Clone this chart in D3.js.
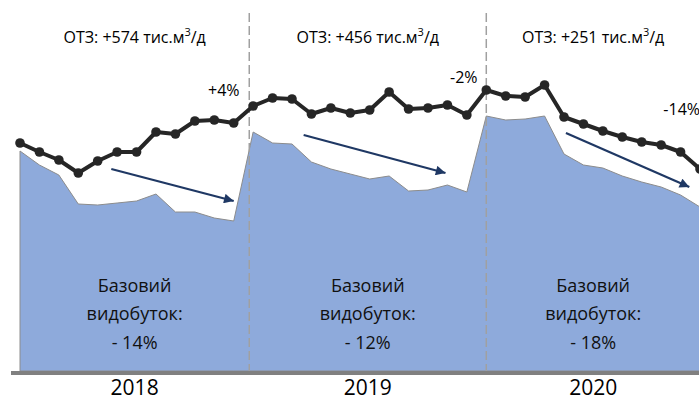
<!DOCTYPE html>
<html>
<head>
<meta charset="utf-8">
<script src="https://cdn.jsdelivr.net/npm/d3@7"></script>
<style>
  html, body { margin: 0; padding: 0; background: #fff; }
  svg { display: block; font-family: 'Open Sans', 'Noto Sans', sans-serif; }
</style>
</head>
<body>
<svg id="chart" width="699" height="400"></svg>
<script>
// monthly values, Jan 2018 .. Dec 2020 (index 0..35)
const YEARS = ['2018', '2019', '2020']
const TOTAL = [
  228, 219, 211, 198, 210, 219, 219, 239, 237, 250, 251, 248,
  265, 273, 272, 257, 263, 258, 261, 279, 262, 263, 266, 256,
  281, 275, 274, 286, 254, 247, 240, 234, 229, 226, 219, 202,
]
const BASE = [
  220, 206, 196, 167, 166, 168, 170, 177, 159, 159, 153, 150,
  239, 228, 227, 209, 202, 197, 192, 195, 180, 181, 186, 179,
  255, 251, 252, 255, 217, 206, 203, 195, 189, 184, 176, 164,
]
// section bounds in month units (dashed dividers in between)
const BOUNDS = [0, 11.8, 24, 35]
const OTZ_LABELS = ['+574', '+456', '+251']
const BASE_LABELS = ['- 14%', '- 12%', '- 18%']
const CHANGE_LABELS = [
  {text: '+4%', m: 11.3, v: 275},
  {text: '-2%', m: 23.55, v: 288},
  {text: '-14%', m: 35, v: 256},
]
// trend arrows: [month, value] -> [month, value]
const ARROWS = [
  [[4.7, 202], [11.0, 170]],
  [[14.6, 236], [21.9, 198]],
  [[28.1, 238], [34.45, 184]],
]

const svg = d3.select('#chart')
const x = d3.scaleLinear().domain([0, 35]).range([20, 700])
const y = d3.scaleLinear().domain([0, 300]).range([371, 71])

svg.append('defs')
  .append('marker')
  .attr('id', 'head')
  .attr('viewBox', '0 0 10 10')
  .attr('refX', 10)
  .attr('refY', 5)
  .attr('markerWidth', 5)
  .attr('markerHeight', 4.4)
  .attr('orient', 'auto')
  .attr('markerUnits', 'strokeWidth')
  .append('path')
  .attr('d', 'M0,0L10,5L0,10Z')
  .attr('fill', '#1f3864')

// base production area
const area = d3.area()
  .x((d, i) => x(i))
  .y0(y(0))
  .y1((d) => y(d))

svg.append('path')
  .datum(BASE)
  .attr('d', area)
  .attr('fill', '#8eaadb')
  .attr('stroke', '#8c8c8c')
  .attr('stroke-width', 1)

// year dividers
svg.selectAll('.divider')
  .data(BOUNDS.slice(1, -1))
  .enter()
  .append('line')
  .attr('class', 'divider')
  .attr('x1', (d) => x(d))
  .attr('x2', (d) => x(d))
  .attr('y1', 13)
  .attr('y2', y(0))
  .attr('stroke', '#a0a0a0')
  .attr('stroke-width', 1.5)
  .attr('stroke-dasharray', '9,4')

// bottom axis line
svg.append('line')
  .attr('x1', 11)
  .attr('x2', 699)
  .attr('y1', y(0) + 2)
  .attr('y2', y(0) + 2)
  .attr('stroke', '#808080')
  .attr('stroke-width', 4)

// total production line
const line = d3.line()
  .x((d, i) => x(i))
  .y((d) => y(d))

svg.append('path')
  .datum(TOTAL)
  .attr('d', line)
  .attr('fill', 'none')
  .attr('stroke', '#262626')
  .attr('stroke-width', 4)
  .attr('stroke-linejoin', 'round')

svg.selectAll('.dot')
  .data(TOTAL)
  .enter()
  .append('circle')
  .attr('class', 'dot')
  .attr('cx', (d, i) => x(i))
  .attr('cy', (d) => y(d))
  .attr('r', 4.8)
  .attr('fill', '#262626')

// trend arrows
svg.selectAll('.arrow')
  .data(ARROWS)
  .enter()
  .append('line')
  .attr('class', 'arrow')
  .attr('x1', (d) => x(d[0][0]))
  .attr('y1', (d) => y(d[0][1]))
  .attr('x2', (d) => x(d[1][0]))
  .attr('y2', (d) => y(d[1][1]))
  .attr('stroke', '#1f3864')
  .attr('stroke-width', 2.2)
  .attr('marker-end', 'url(#head)')

const centers = YEARS.map((yr, i) => (x(BOUNDS[i]) + x(BOUNDS[i + 1])) / 2)

// top OTZ labels
const otz = svg.selectAll('.otz')
  .data(OTZ_LABELS)
  .enter()
  .append('text')
  .attr('class', 'otz')
  .attr('x', (d, i) => centers[i])
  .attr('y', 43)
  .attr('text-anchor', 'middle')
  .attr('font-size', 16)
  .attr('fill', '#000')
otz.append('tspan').text((d) => `ОТЗ: ${d} тис.м`)
otz.append('tspan').attr('dy', -7).attr('font-size', 11).text('3')
otz.append('tspan').attr('dy', 7).text('/д')

// change labels
svg.selectAll('.change')
  .data(CHANGE_LABELS)
  .enter()
  .append('text')
  .attr('class', 'change')
  .attr('x', (d) => x(d.m))
  .attr('y', (d) => y(d.v))
  .attr('text-anchor', 'end')
  .attr('font-size', 16)
  .text((d) => d.text)

// base production labels
const base = svg.selectAll('.base')
  .data(BASE_LABELS)
  .enter()
  .append('text')
  .attr('class', 'base')
  .attr('text-anchor', 'middle')
  .attr('font-size', 18)
  .attr('fill', '#111')
base.append('tspan').attr('x', (d, i) => centers[i]).attr('y', 292).text('Базовий')
base.append('tspan').attr('x', (d, i) => centers[i]).attr('y', 320).text('видобуток:')
base.append('tspan').attr('x', (d, i) => centers[i]).attr('y', 349).text((d) => d)

// year labels
svg.selectAll('.year')
  .data(YEARS)
  .enter()
  .append('text')
  .attr('class', 'year')
  .attr('x', (d, i) => centers[i])
  .attr('y', 395)
  .attr('text-anchor', 'middle')
  .attr('font-size', 21)
  .text((d) => d)
</script>
</body>
</html>
